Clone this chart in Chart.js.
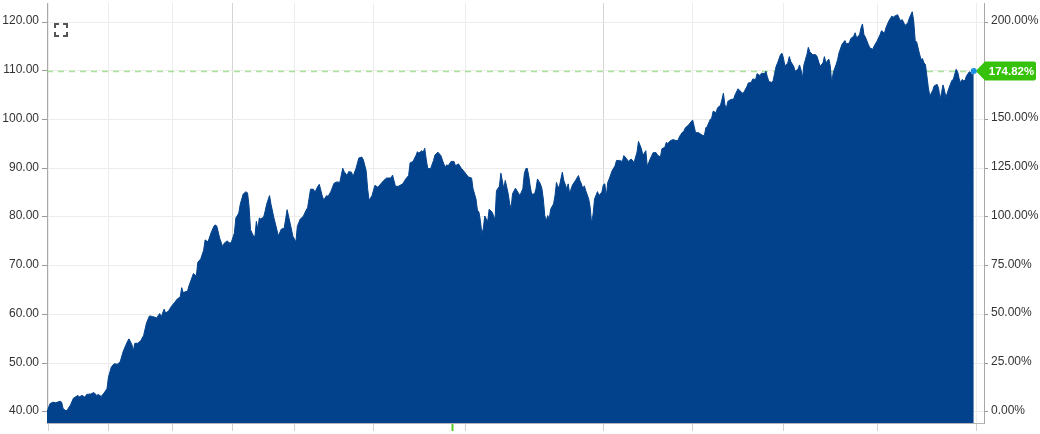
<!DOCTYPE html>
<html>
<head>
<meta charset="utf-8">
<script src="https://cdn.jsdelivr.net/npm/chart.js@4.4.1/dist/chart.umd.min.js"></script>
<style>
html,body{margin:0;padding:0;background:#fff;}
#wrap{width:1040px;height:434px;position:relative;}
</style>
</head>
<body>
<div id="wrap"><canvas id="c" width="1040" height="434"></canvas></div>
<script>
// trading-day index of each observation
const days = [0,2,4,6,9,10,11,13,14,16,18,21,22,24,26,27,30,32,34,35,37,39,41,42,44,46,48,50,52,55,56,58,59,60,62,64,66,68,70,72,75,76,77,78,80,81,83,85,87,89,91,92,93,96,97,100,102,103,105,107,108,110,112,114,115,116,118,120,121,123,125,126,128,129,131,132,134,136,137,138,139,141,142,143,144,145,146,148,149,150,152,153,155,157,158,160,162,163,164,166,168,170,171,173,175,177,178,180,182,183,185,186,188,189,191,192,194,196,198,200,202,203,205,206,208,209,211,213,215,216,218,219,220,222,224,226,228,230,232,235,236,238,240,243,245,247,248,250,252,253,254,256,257,258,259,260,262,264,265,267,269,271,272,273,274,276,278,279,281,283,285,287,288,290,291,293,294,295,296,297,298,299,301,302,304,306,307,309,310,312,313,315,316,317,318,320,321,323,325,326,327,328,329,330,331,333,334,335,337,338,339,340,341,342,343,344,346,347,348,349,350,351,352,353,355,356,357,358,359,361,363,364,365,366,367,368,370,371,372,373,374,376,377,379,380,381,382,383,384,386,388,389,391,393,394,396,397,399,401,403,404,406,407,409,410,412,414,416,417,419,420,422,423,424,426,428,429,431,432,434,435,436,438,439,441,442,443,445,446,448,449,450,451,453,454,455,457,458,460,461,462,463,464,465,467,469,470,472,473,475,476,478,479,481,482,484,485,487,488,490,491,492,493,495,496,498,499,501,502,503,504,506,507,508,510,511,513,514,515,516,517,519,520,521,523,525,526,528,530,531,532,534,535,536,537,539,540,541,543,545,546,548,549,551,552,553,555,556,557,558,559,561,562,564,565,567,569,570,571,572,573,575,577,578,579,581,582,583,584,585,586,588,589,591,592,593,594,596,597,598,599,600,601,602,603,605,606,608,609,610,611,612,613,614,615,616,617,618,619,621,622,623,624,625,626,627,628,630,631,632,633];
// price of each observation
const prices = [40.0,41.7,42.0,41.9,42.2,42.0,40.7,40.2,40.5,41.4,42.8,43.4,43.1,43.4,43.0,43.6,43.7,44.0,43.4,43.6,43.2,43.9,44.8,47.2,49.3,49.9,49.8,50.3,52.4,54.5,55.0,53.8,52.6,54.1,54.1,54.6,55.7,58.3,59.7,59.6,59.3,59.8,60.2,59.5,61.1,60.3,60.7,61.7,62.4,63.2,63.6,65.5,64.5,64.8,65.9,68.4,67.9,70.7,71.4,73.2,75.3,74.9,76.7,78.1,78.4,78.1,75.6,73.9,74.6,75.1,74.6,74.9,76.7,79.8,80.8,82.6,84.7,85.2,84.9,82.2,77.4,76.1,76.0,79.1,77.5,79.8,79.6,80.0,81.2,82.6,84.4,82.6,79.8,77.4,76.1,77.5,77.7,79.6,81.5,78.8,76.0,74.9,78.1,79.6,80.1,81.4,81.9,85.7,85.7,85.1,86.3,86.7,84.3,83.5,84.4,84.2,85.3,86.9,87.2,87.1,90.0,89.3,88.5,89.3,89.2,88.3,89.9,92.1,92.3,91.8,89.5,85.8,83.4,84.4,86.5,86.1,86.8,87.5,88.0,88.0,88.6,86.3,86.3,86.8,87.8,88.5,91.1,91.4,92.6,93.4,93.1,93.6,93.3,94.1,91.9,90.0,89.9,91.6,92.7,93.3,92.6,90.9,90.2,90.7,90.5,91.4,91.4,90.5,90.9,90.0,89.3,88.5,88.2,88.0,85.8,83.7,81.4,81.0,79.3,76.6,77.6,80.2,79.0,81.6,81.0,79.5,85.4,86.3,89.0,85.8,87.5,84.8,82.7,81.8,84.8,85.9,85.4,84.4,85.8,88.8,89.9,90.0,88.5,86.4,84.7,84.7,85.8,87.8,86.8,85.9,83.7,80.3,79.2,80.3,79.5,81.6,82.7,84.4,87.1,86.1,86.3,87.8,89.2,87.5,85.8,86.8,84.7,85.8,86.6,87.5,88.5,87.5,86.8,85.8,86.4,85.4,83.7,82.0,78.6,80.6,83.7,85.2,84.4,85.1,86.6,86.8,84.2,87.1,87.8,89.5,90.5,91.6,91.6,91.4,92.6,91.9,91.4,91.9,91.2,93.3,95.5,94.0,92.6,93.6,90.4,91.9,93.2,93.2,92.7,92.3,94.0,94.3,95.3,95.1,95.7,95.9,95.7,95.7,96.5,97.4,97.6,98.3,98.8,99.2,99.9,98.6,97.3,97.3,97.1,96.7,96.7,98.3,98.6,100.0,100.3,101.7,101.4,102.4,102.9,104.1,105.4,103.1,102.2,103.7,104.1,104.2,105.1,106.3,106.0,105.4,105.6,106.7,107.5,107.6,108.3,108.2,109.4,109.0,109.5,109.4,109.9,108.8,107.8,107.6,108.0,110.9,111.6,113.3,113.6,112.6,111.0,111.6,112.9,111.9,110.9,109.9,110.3,111.2,110.2,108.5,111.2,113.3,114.8,113.9,113.3,113.3,112.9,110.9,111.6,112.9,111.6,112.4,111.0,107.5,109.6,111.3,112.3,113.7,115.4,116.2,115.5,115.7,116.6,117.1,117.8,116.7,117.4,118.8,119.6,117.4,116.9,115.4,114.7,114.4,115.1,116.1,117.4,118.2,118.0,117.7,118.8,120.2,121.2,121.0,121.2,121.5,120.8,120.2,120.5,120.0,119.3,119.8,120.8,122.1,120.2,116.2,115.9,113.4,112.3,112.5,111.6,111.3,108.9,106.5,104.8,106.0,106.9,107.2,106.4,104.2,105.5,107.1,106.0,104.5,105.5,106.4,107.2,108.0,108.2,110.3,109.8,108.4,107.5,108.2,108.0,108.0,108.9,109.8,109.6,108.9,109.928];
// axis ticks
const priceTicks = [40,50,60,70,80,90,100,110,120];
const pctTicks = [0,25,50,75,100,125,150,175,200];
const timeTicks = [1,42,86,127,169,223,286,380,441,503,567,635];
const majorTimeTicks = [127,380];
const nowTick = 277;

const priceMin = 37.74, priceMax = 123.9, dayMax = 640;
const base = prices[0];
const last = prices[prices.length-1];
const lastPct = (last/base - 1) * 100;
const toPct = v => (v/base - 1) * 100;

const FONT = '"Liberation Sans", Arial, Helvetica, sans-serif';
const BLUE = '#02428c';

const points = days.map((d,i)=>({x:d, y:prices[i]}));

function zeroPad(s){ s.paddingTop=0; s.paddingBottom=0; s.paddingLeft=0; s.paddingRight=0; }

const overlay = {
  id:'overlay',
  beforeDatasetsDraw(chart){
    const {ctx, chartArea} = chart;
    const y = chart.scales.y.getPixelForValue(last);
    ctx.save();
    ctx.strokeStyle = 'rgba(130,215,110,0.7)';
    ctx.lineWidth = 1.5;
    ctx.setLineDash([6,5]);
    ctx.beginPath();
    ctx.moveTo(chartArea.left, Math.round(y)+0.5);
    ctx.lineTo(chartArea.right, Math.round(y)+0.5);
    ctx.stroke();
    ctx.restore();
  },
  afterDraw(chart){
    const {ctx, chartArea} = chart;
    const xs = chart.scales.x, ys = chart.scales.y;
    const y = ys.getPixelForValue(last);
    const xl = xs.getPixelForValue(days[days.length-1]);
    // value tag
    ctx.save();
    const tip = xl + 2, bx = chartArea.right + 1, br = 1036, h = 19, r = 2;
    ctx.fillStyle = '#36c20a';
    ctx.beginPath();
    ctx.moveTo(tip, y);
    ctx.lineTo(bx, y - h/2);
    ctx.lineTo(br - r, y - h/2);
    ctx.quadraticCurveTo(br, y - h/2, br, y - h/2 + r);
    ctx.lineTo(br, y + h/2 - r);
    ctx.quadraticCurveTo(br, y + h/2, br - r, y + h/2);
    ctx.lineTo(bx, y + h/2);
    ctx.closePath();
    ctx.fill();
    ctx.fillStyle = '#fff';
    ctx.font = 'bold 11.5px ' + FONT;
    ctx.textAlign = 'center';
    ctx.textBaseline = 'middle';
    ctx.fillText(lastPct.toFixed(2) + '%', (bx + br)/2 + 1, y + 0.5);
    // last point dot
    ctx.fillStyle = '#1b8fe3';
    ctx.beginPath();
    ctx.arc(xl, y, 3, 0, Math.PI*2);
    ctx.fill();
    // expand icon
    ctx.strokeStyle = '#555';
    ctx.lineWidth = 2;
    const x0 = 55, y0 = 24, s = 12, a = 4;
    ctx.beginPath();
    ctx.moveTo(x0, y0+a); ctx.lineTo(x0, y0); ctx.lineTo(x0+a, y0);
    ctx.moveTo(x0+s-a, y0); ctx.lineTo(x0+s, y0); ctx.lineTo(x0+s, y0+a);
    ctx.moveTo(x0+s, y0+s-a); ctx.lineTo(x0+s, y0+s); ctx.lineTo(x0+s-a, y0+s);
    ctx.moveTo(x0+a, y0+s); ctx.lineTo(x0, y0+s); ctx.lineTo(x0, y0+s-a);
    ctx.stroke();
    ctx.restore();
  }
};

new Chart(document.getElementById('c'), {
  type: 'line',
  data: { datasets: [{
    data: points,
    fill: 'start',
    backgroundColor: BLUE,
    borderColor: BLUE,
    borderWidth: 1,
    pointRadius: 0,
    tension: 0
  }]},
  options: {
    responsive: false,
    animation: false,
    events: [],
    layout: { padding: { top: 3, left: 0, right: 0, bottom: 0 } },
    plugins: { legend: { display: false }, tooltip: { enabled: false } },
    scales: {
      x: {
        type: 'linear', min: 0, max: dayMax,
        afterBuildTicks: s => { s.ticks = timeTicks.concat([nowTick]).sort((a,b)=>a-b).map(v=>({value:v})); },
        afterFit: s => { s.height = 11; zeroPad(s); },
        ticks: { display: false },
        border: { color: '#b5b5b5', width: 1 },
        grid: {
          drawTicks: true, tickLength: 8,
          color: c => c.tick && c.tick.value === nowTick ? 'rgba(0,0,0,0)' : (c.tick && majorTimeTicks.includes(c.tick.value) ? '#d4d4d4' : '#ececec'),
          lineWidth: 1,
          tickColor: c => c.tick && c.tick.value === nowTick ? '#55cc22' : '#d0d0d0',
          tickWidth: c => c.tick && c.tick.value === nowTick ? 2 : 1
        }
      },
      y: {
        position: 'left', min: priceMin, max: priceMax,
        afterBuildTicks: s => { s.ticks = priceTicks.map(v=>({value:v})); },
        afterFit: s => { s.width = 47; zeroPad(s); },
        ticks: { color: '#333', font: { family: FONT, size: 12 }, padding: 3, labelOffset: -1, callback: v => v.toFixed(2) },
        border: { color: '#a8a8a8', width: 1 },
        grid: { color: '#ececec', tickColor: '#999', tickLength: 5 }
      },
      y2: {
        position: 'right', min: toPct(priceMin), max: toPct(priceMax),
        afterBuildTicks: s => { s.ticks = pctTicks.map(v=>({value:v})); },
        afterFit: s => { s.width = 56; zeroPad(s); },
        ticks: { color: '#333', font: { family: FONT, size: 12 }, padding: 3, labelOffset: -1.5,
          callback: v => Math.abs(v - lastPct) < 12 ? '' : v.toFixed(2) + '%' },
        border: { color: '#a8a8a8', width: 1 },
        grid: { drawOnChartArea: false, tickColor: '#999', tickLength: 4 }
      }
    }
  },
  plugins: [overlay]
});
</script>
</body>
</html>
